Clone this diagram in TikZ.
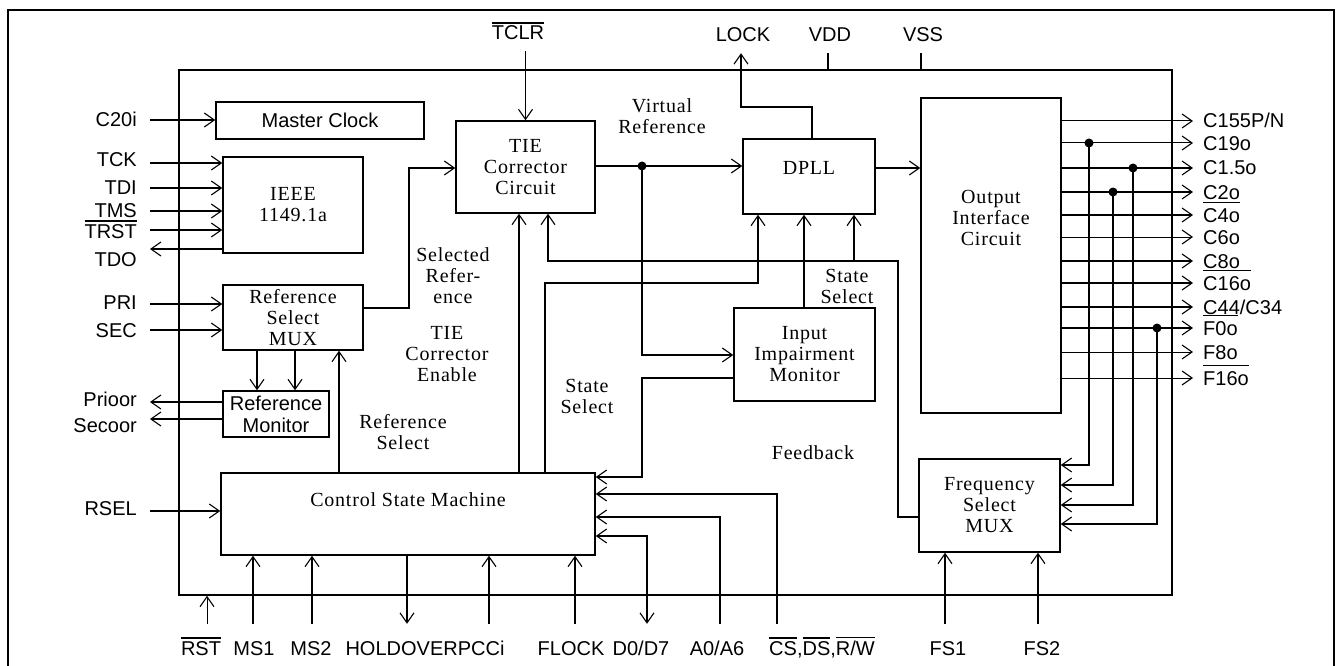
\documentclass[tikz,border=0pt]{standalone}
\usepackage{fontspec}
\setmainfont{Liberation Serif}[LetterSpace=4]
\newfontfamily\sansf{Liberation Sans}
\usetikzlibrary{arrows.meta}
\newsavebox\ovlbox
\newcommand\ovl[2][2.5pt]{\sbox\ovlbox{#2}\rlap{\rule[\dimexpr\ht\ovlbox+#1\relax]{\wd\ovlbox}{1.4pt}}\usebox\ovlbox}
\begin{document}
\begin{tikzpicture}[x=1pt,y=-1pt,
  every node/.style={font=\fontsize{20}{21}\selectfont},
  sans/.style={font=\sansf\fontsize{20}{22}\selectfont},
  ln/.style={line width=1.5pt},
  thn/.style={line width=1pt},
  arr/.style={-{Straight Barb[length=10pt,width=14pt,line width=1.1pt]}},
  darr/.style={{Straight Barb[length=10pt,width=14pt,line width=1.1pt]}-{Straight Barb[length=10pt,width=14pt,line width=1.1pt]}},
  box/.style={draw,line width=1.5pt,inner sep=0pt,align=center},
  llab/.style={sans,anchor=east,inner xsep=13pt,text height=14pt,text depth=0pt},
  olab/.style={sans,anchor=west,inner xsep=10pt,text height=14pt,text depth=0pt},
  blab/.style={sans,inner ysep=17pt,text height=14pt,text depth=0pt},
  tlab/.style={sans,inner ysep=11pt,text height=14pt,text depth=0pt},
  ftxt/.style={align=center,inner sep=0pt},
  dot/.style={circle,fill,inner sep=0pt,minimum size=9pt}
]
\useasboundingbox (0,0) rectangle (1336,666);
% outer frame
\draw[ln] (8,666) -- (8,10) -- (1334,10) -- (1334,666);
% chip
\node[box,minimum width=993pt,minimum height=525pt] (chip) at (675.5,332.5) {};
% blocks
\node[box,sans,minimum width=208pt,minimum height=37pt] (mc) at (320,120.5) {Master Clock};
\node[box,minimum width=140pt,minimum height=96pt] (ieee) at (293,205) {IEEE\\1149.1a};
\node[box,minimum width=140pt,minimum height=65pt] (rsm) at (293,317.5) {Reference\\Select\\MUX};
\node[box,sans,minimum width=106pt,minimum height=46pt] (rmon) at (276,414) {Reference\\Monitor};
\node[box,minimum width=374pt,minimum height=82pt] (csm) at (408,514) {};
\node[ftxt] (csmt) at (408,500) {Control State Machine};
\node[box,minimum width=139pt,minimum height=92pt] (tie) at (525.5,167) {TIE\\Corrector\\Circuit};
\node[box,minimum width=132pt,minimum height=75pt] (dpll) at (809,176.5) {};
\node[ftxt] (dpllt) at (809,168) {DPLL};
\node[box,minimum width=141pt,minimum height=93pt] (iim) at (804.5,354.5) {Input\\Impairment\\Monitor};
\node[box,minimum width=140pt,minimum height=315pt] (oic) at (991,255.5) {};
\node[ftxt] (oict) at (991,218) {Output\\Interface\\Circuit};
\node[box,minimum width=141pt,minimum height=93pt] (fsm) at (989.5,505.5) {Frequency\\Select\\MUX};
% free labels
\node[ftxt] (vref) at (662,116.5) {Virtual\\Reference};
\node[ftxt] (selref) at (453,276) {Selected\\Refer-\\ence};
\node[ftxt] (tcen) at (447,354) {TIE\\Corrector\\Enable};
\node[ftxt] (rselt) at (403,432.5) {Reference\\Select};
\node[ftxt] (ss1) at (587,396) {State\\Select};
\node[ftxt] (ss2) at (847,286) {State\\Select};
\node[ftxt] (fb) at (813,453) {Feedback};
% left labels
\node[llab] (c20i) at (150,120) {C20i};
\node[llab] (tck) at (150,159) {TCK};
\node[llab] (tdi) at (150,187) {TDI};
\node[llab] (tms) at (150,210) {TMS};
\node[llab] (trst) at (150,231) {\ovl{TRST}};
\node[llab] (tdo) at (150,259) {TDO};
\node[llab] (pri) at (150,302) {PRI};
\node[llab] (sec) at (150,330) {SEC};
\node[llab] (prioor) at (150,399) {Prioor};
\node[llab] (secoor) at (150,425) {Secoor};
\node[llab] (rsel) at (150,508) {RSEL};
\draw[ln,arr] (c20i.east |- 0,120) -- (mc.west |- 0,120);
\draw[ln,arr] (tck.east |- 0,163) -- (ieee.west |- 0,163);
\draw[ln,arr] (tdi.east |- 0,188) -- (ieee.west |- 0,188);
\draw[ln,arr] (tms.east |- 0,211) -- (ieee.west |- 0,211);
\draw[ln,arr] (trst.east |- 0,230) -- (ieee.west |- 0,230);
\draw[ln,arr] (ieee.west |- 0,249) -- (tdo.east |- 0,249);
\draw[ln,arr] (pri.east |- 0,304) -- (rsm.west |- 0,304);
\draw[ln,arr] (sec.east |- 0,330) -- (rsm.west |- 0,330);
\draw[ln,arr] (rmon.west |- 0,402) -- (prioor.east |- 0,402);
\draw[ln,arr] (rmon.west |- 0,419) -- (secoor.east |- 0,419);
\draw[ln,arr] (rsel.east |- 0,511) -- (csm.west |- 0,511);
% top labels
\node[tlab] (tclr) at (518,33) {\ovl{TCLR}};
\node[tlab] (lock) at (743,35) {LOCK};
\node[tlab] (vdd) at (830,35) {VDD};
\node[tlab] (vss) at (923,35) {VSS};
\draw[ln,arr] (tie.north |- tclr.south) -- (tie.north);
\draw[ln,arr] (dpll.north -| 812,0) -- (812,107) -| (lock.south -| 741,0);
\draw[ln] (vdd.south -| 828,0) -- (chip.north -| 828,0);
\draw[ln] (vss.south -| 921,0) -- (chip.north -| 921,0);
% internal connections
\draw[ln,arr] (rsm.east |- 0,308) -| (409,168) -- (tie.west |- 0,168);
\draw[ln,arr] (rsm.south -| 257,0) -- (rmon.north -| 257,0);
\draw[ln,arr] (rsm.south -| 295,0) -- (rmon.north -| 295,0);
\draw[ln,arr] (csm.north -| 339,0) -- (rsm.south -| 339,0);
\draw[ln,arr] (csm.north -| 519,0) -- (tie.south -| 519,0);
\draw[ln,arr] (tie.east |- 0,166) -- (dpll.west |- 0,166);
\node[dot] (vdot) at (642,166) {};
\draw[ln,arr] (vdot.center) |- (iim.west |- 0,355);
\draw[ln,arr] (csm.north -| 545,0) -- (545,283) -| (dpll.south -| 758,0);
\draw[ln,arr] (iim.north -| 804,0) -- (dpll.south -| 804,0);
\draw[ln,arr] (fsm.west |- 0,517) -| (898,261) -| (tie.south -| 548,0);
\coordinate (fbj) at (854,261);
\draw[ln,arr] (fbj) -- (dpll.south -| 854,0);
\draw[ln,arr] (iim.west |- 0,378) -| (642,477) -- (csm.east |- 0,477);
\draw[ln,arr] (dpll.east |- 0,168) -- (oic.west |- 0,168);
% outputs
\node[olab] (o1) at (1193,121) {C155P/N};
\node[olab] (o2) at (1193,143) {C19o};
\node[olab] (o3) at (1193,168) {C1.5o};
\node[olab] (o4) at (1193,192) {C2o};
\node[olab] (o5) at (1193,215) {\ovl[5pt]{C4o}};
\node[olab] (o6) at (1193,237) {C6o};
\node[olab] (o7) at (1193,261) {C8o};
\node[olab] (o8) at (1193,283) {\ovl[5pt]{C16o}};
\node[olab] (o9) at (1193,307) {C44/C34};
\node[olab] (o10) at (1193,328) {\ovl[5pt]{F0o}};
\node[olab] (o11) at (1193,352) {F8o};
\node[olab] (o12) at (1193,378) {\ovl[5pt]{F16o}};
\foreach \n in {1,2,6,11,12} \draw[thn,arr] (oic.east |- o\n.west) -- (o\n.west);
\foreach \n in {3,4,5,7,8,9,10} \draw[ln,arr] (oic.east |- o\n.west) -- (o\n.west);
\node[dot] (d1) at (1089,143) {};
\node[dot] (d2) at (1113,192) {};
\node[dot] (d3) at (1133,168) {};
\node[dot] (d4) at (1157,328) {};
\draw[ln,arr] (d1.center) |- (fsm.east |- 0,465);
\draw[ln,arr] (d2.center) |- (fsm.east |- 0,485);
\draw[ln,arr] (d3.center) |- (fsm.east |- 0,505);
\draw[ln,arr] (d4.center) |- (fsm.east |- 0,524);
% bottom labels
\node[blab] (rst) at (201,648) {\ovl{RST}};
\node[blab] (ms1) at (254,648) {MS1};
\node[blab] (ms2) at (311,648) {MS2};
\node[blab] (hold) at (425,648) {HOLDOVERPCCi};
\node[blab] (flock) at (571,648) {FLOCK};
\node[blab] (d07) at (641,648) {D0/D7};
\node[blab] (a06) at (717,648) {A0/A6};
\node[blab] (cs) at (822,648) {\ovl{CS},\ovl{DS},\ovl{R/W}};
\node[blab] (fs1) at (948,648) {FS1};
\node[blab] (fs2) at (1042,648) {FS2};
\draw[thn,arr] (rst.north -| 207,0) -- (chip.south -| 207,0);
\draw[ln,arr] (ms1.north -| 253,0) -- (csm.south -| 253,0);
\draw[ln,arr] (ms2.north -| 312,0) -- (csm.south -| 312,0);
\draw[ln,arr] (csm.south -| 407,0) -- (hold.north -| 407,0);
\draw[ln,arr] (hold.north -| 489,0) -- (csm.south -| 489,0);
\draw[ln,arr] (flock.north -| 575,0) -- (csm.south -| 575,0);
\draw[ln,darr] (csm.east |- 0,536) -| (d07.north -| 647,0);
\draw[ln,arr] (a06.north -| 720,0) |- (csm.east |- 0,517);
\draw[ln,arr] (cs.north -| 777,0) |- (csm.east |- 0,494);
\draw[ln,arr] (fs1.north -| 945,0) -- (fsm.south -| 945,0);
\draw[ln,arr] (fs2.north -| 1038,0) -- (fsm.south -| 1038,0);
\end{tikzpicture}
\end{document}
